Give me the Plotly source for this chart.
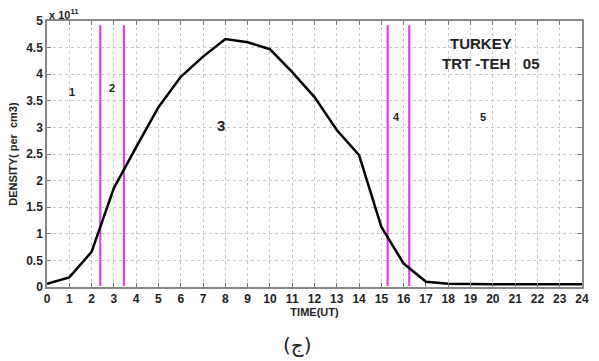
import plotly.graph_objects as go

hours = list(range(0, 25))
density = [0.06, 0.18, 0.66, 1.86, 2.63, 3.38, 3.95, 4.33, 4.66, 4.60, 4.47, 4.04, 3.57,
           2.95, 2.48, 1.13, 0.44, 0.10, 0.06, 0.05, 0.05, 0.05, 0.05, 0.05, 0.05]
boundaries = [2.39, 3.45, 15.28, 16.25]
line_ymin, line_ymax = 0.02, 4.92
region_labels = ["1", "2", "3", "4", "5"]
region_x = [1.1, 2.93, 7.79, 15.66, 19.56]
region_y = [3.66, 3.75, 3.04, 3.2, 3.2]
region_size = [11, 11, 15, 11, 11]
x_ticks = list(range(0, 25))
y_ticks = [0, 0.5, 1, 1.5, 2, 2.5, 3, 3.5, 4, 4.5, 5]
y_ticklabels = ["0", "0.5", "1", "1.5", "2", "2.5", "3", "3.5", "4", "4.5", "5"]

FONT = "Liberation Sans"
fig = go.Figure()
for b in boundaries:
    fig.add_trace(go.Scatter(x=[b, b], y=[line_ymin, line_ymax], mode="lines",
                             line=dict(color="#e040e8", width=2.2), showlegend=False))
fig.add_trace(go.Scatter(x=hours, y=density, mode="lines",
                         line=dict(color="black", width=2.5), showlegend=False))

for t, x, y, s in zip(region_labels, region_x, region_y, region_size):
    fig.add_annotation(x=x, y=y, text=t, showarrow=False,
                       font=dict(family=FONT, size=s, color="#222", weight="bold"))
fig.add_annotation(x=19.47, y=4.58, text="TURKEY", showarrow=False,
                   font=dict(family=FONT, size=15, color="#222", weight="bold"))
fig.add_annotation(x=19.9, y=4.2, text="TRT -TEH&nbsp;&nbsp;&nbsp;05", showarrow=False,
                   font=dict(family=FONT, size=15, color="#222", weight="bold"))
fig.add_annotation(xref="paper", yref="paper", x=0.0, y=1.0, xanchor="left", yanchor="bottom",
                   text="x 10<sup>11</sup>", showarrow=False, yshift=-2,
                   font=dict(family=FONT, size=11, color="#222", weight="bold"))
fig.add_annotation(xref="paper", yref="paper", x=0.468, y=-0.218, xanchor="center",
                   yanchor="middle", text="(ج)", showarrow=False,
                   font=dict(family="DejaVu Sans", size=20, color="#222"))

axis_common = dict(showline=True, linecolor="#888", linewidth=1.5, mirror="allticks",
                   ticks="inside", ticklen=4, tickcolor="#777",
                   showgrid=True, gridcolor="#c8c8c8", griddash="dot", gridwidth=1,
                   zeroline=False,
                   tickfont=dict(family=FONT, size=12, color="#222", weight="bold"))
fig.update_xaxes(range=[0, 24], tickvals=x_ticks,
                 title=dict(text="TIME(UT)", standoff=0,
                            font=dict(family=FONT, size=11, color="#222", weight="bold")),
                 **axis_common)
fig.update_yaxes(range=[0, 5], tickvals=y_ticks, ticktext=y_ticklabels,
                 title=dict(text="DENSITY( per  cm3)", standoff=6,
                            font=dict(family=FONT, size=11, color="#222", weight="bold")),
                 **axis_common)
fig.update_layout(width=599, height=361, margin=dict(l=47, r=10, t=21, b=74),
                  plot_bgcolor="white", paper_bgcolor="white")
fig.write_html("out.html")
